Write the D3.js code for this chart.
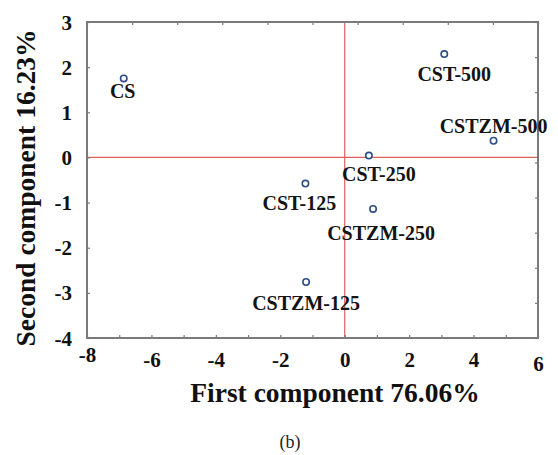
<!DOCTYPE html>
<html>
<head>
<meta charset="utf-8">
<script src="https://cdn.jsdelivr.net/npm/d3@7"></script>
<style>
  html, body { margin: 0; padding: 0; background: #fff; }
  svg { display: block; }
</style>
</head>
<body>
<script>
// PCA score plot: sample names and their scores on the first two components
const samples = ["CS", "CST-500", "CSTZM-500", "CST-250", "CST-125", "CSTZM-250", "CSTZM-125"];
const pc1 = [-6.86, 3.09, 4.62, 0.75, -1.22, 0.88, -1.20];
const pc2 = [1.75, 2.29, 0.37, 0.04, -0.58, -1.14, -2.76];

const xTicks = [-8, -7, -6, -5, -4, -3, -2, -1, 0, 1, 2, 3, 4, 5, 6];
const xTickLabels = [-8, -6, -4, -2, 0, 2, 4, 6];
const yTicks = [-4, -3, -2, -1, 0, 1, 2, 3];

const xTitle = "First component 76.06%";
const yTitle = "Second component 16.23%";
const caption = "(b)";

// label placement relative to each marker (pixels)
const labelOffset = {
  "CS": [-1, 20],
  "CST-500": [10, 27],
  "CSTZM-500": [0, -8],
  "CST-250": [10, 25],
  "CST-125": [-6, 26],
  "CSTZM-250": [8, 31],
  "CSTZM-125": [0, 28]
};

const W = 558, H = 455;
const m = { left: 87, top: 22, right: 538, bottom: 338 };

const svg = d3.select("body").append("svg").attr("width", W).attr("height", H);

const x = d3.scaleLinear().domain([-8, 6]).range([m.left, m.right]);
const y = d3.scaleLinear().domain([-4, 3]).range([m.bottom, m.top]);

const serif = "'Liberation Serif', 'Times New Roman', serif";
const frameColor = "#7a7a7a";

function styleAxisText(g) {
  g.attr("font-family", serif).attr("font-size", 21).attr("font-weight", "bold");
  g.selectAll(".tick text")
    .style("font-family", serif)
    .style("font-size", "21px")
    .style("font-weight", "bold")
    .style("fill", "#111");
}

// zero reference lines
svg.append("line")
  .attr("x1", x(0)).attr("x2", x(0)).attr("y1", m.top).attr("y2", m.bottom)
  .attr("stroke", "#e06060").attr("stroke-width", 1.2);
svg.append("line")
  .attr("x1", m.left).attr("x2", m.right).attr("y1", y(0)).attr("y2", y(0))
  .attr("stroke", "#e06060").attr("stroke-width", 1.2);

// bottom axis: ticks every unit, labels on even values
const gx = svg.append("g").attr("transform", `translate(0,${m.bottom})`)
  .call(d3.axisBottom(x).tickValues(xTicks)
    .tickFormat(d => xTickLabels.includes(d) ? String(d) : "")
    .tickSizeInner(-3).tickSizeOuter(0).tickPadding(10));
gx.select(".domain").remove();
gx.selectAll(".tick line").attr("stroke", frameColor).attr("stroke-width", 1.2);
gx.call(styleAxisText);
gx.selectAll(".tick text").attr("dy", "0.9em")
  .attr("transform", d => d === -8 ? "translate(0,-5)" : d === 6 ? "translate(0,4)" : null);

// left axis
const gy = svg.append("g").attr("transform", `translate(${m.left},0)`)
  .call(d3.axisLeft(y).tickValues(yTicks)
    .tickFormat(d => String(d))
    .tickSizeInner(-3).tickSizeOuter(0).tickPadding(15));
gy.select(".domain").remove();
gy.selectAll(".tick line").attr("stroke", frameColor).attr("stroke-width", 1.2);
gy.call(styleAxisText);
gy.selectAll(".tick text").attr("dy", "0.34em");

// mirrored frame ticks on top and right
const topScale = d3.scaleLinear().domain([0, 10]).range([m.left, m.right]);
const gt = svg.append("g").attr("transform", `translate(0,${m.top})`)
  .call(d3.axisTop(topScale).ticks(10).tickFormat("").tickSizeInner(-3).tickSizeOuter(0));
gt.select(".domain").remove();
gt.selectAll(".tick line").attr("stroke", frameColor).attr("stroke-width", 1.2);

const rightScale = d3.scaleLinear().domain([0, 9]).range([m.bottom, m.top]);
const gr = svg.append("g").attr("transform", `translate(${m.right},0)`)
  .call(d3.axisRight(rightScale).ticks(9).tickFormat("").tickSizeInner(-3).tickSizeOuter(0));
gr.select(".domain").remove();
gr.selectAll(".tick line").attr("stroke", frameColor).attr("stroke-width", 1.2);

// plot frame
svg.append("rect")
  .attr("x", m.left).attr("y", m.top)
  .attr("width", m.right - m.left).attr("height", m.bottom - m.top)
  .attr("fill", "none").attr("stroke", frameColor).attr("stroke-width", 2);

// markers
const pts = samples.map((s, i) => ({ name: s, a: pc1[i], b: pc2[i] }));
svg.append("g").selectAll("circle").data(pts).join("circle")
  .attr("cx", d => x(d.a)).attr("cy", d => y(d.b)).attr("r", 3.2)
  .attr("fill", "#fff").attr("stroke", "#2b4f85").attr("stroke-width", 1.6);

// sample labels
svg.append("g").selectAll("text").data(pts).join("text")
  .attr("x", d => x(d.a) + labelOffset[d.name][0])
  .attr("y", d => y(d.b) + labelOffset[d.name][1])
  .attr("text-anchor", "middle")
  .attr("font-family", serif).attr("font-weight", "bold").attr("font-size", 20)
  .attr("fill", "#141414")
  .text(d => d.name);

// axis titles
svg.append("text")
  .attr("x", 335).attr("y", 402)
  .attr("text-anchor", "middle")
  .attr("font-family", serif).attr("font-weight", "bold").attr("font-size", 27.5)
  .attr("fill", "#111")
  .text(xTitle);

svg.append("text")
  .attr("transform", "translate(35,188) rotate(-90)")
  .attr("text-anchor", "middle")
  .attr("font-family", serif).attr("font-weight", "bold").attr("font-size", 27.5)
  .attr("fill", "#111")
  .text(yTitle);

// panel caption
svg.append("text")
  .attr("x", 290).attr("y", 448)
  .attr("text-anchor", "middle")
  .attr("font-family", serif).attr("font-size", 18)
  .attr("fill", "#222")
  .text(caption);
</script>
</body>
</html>
